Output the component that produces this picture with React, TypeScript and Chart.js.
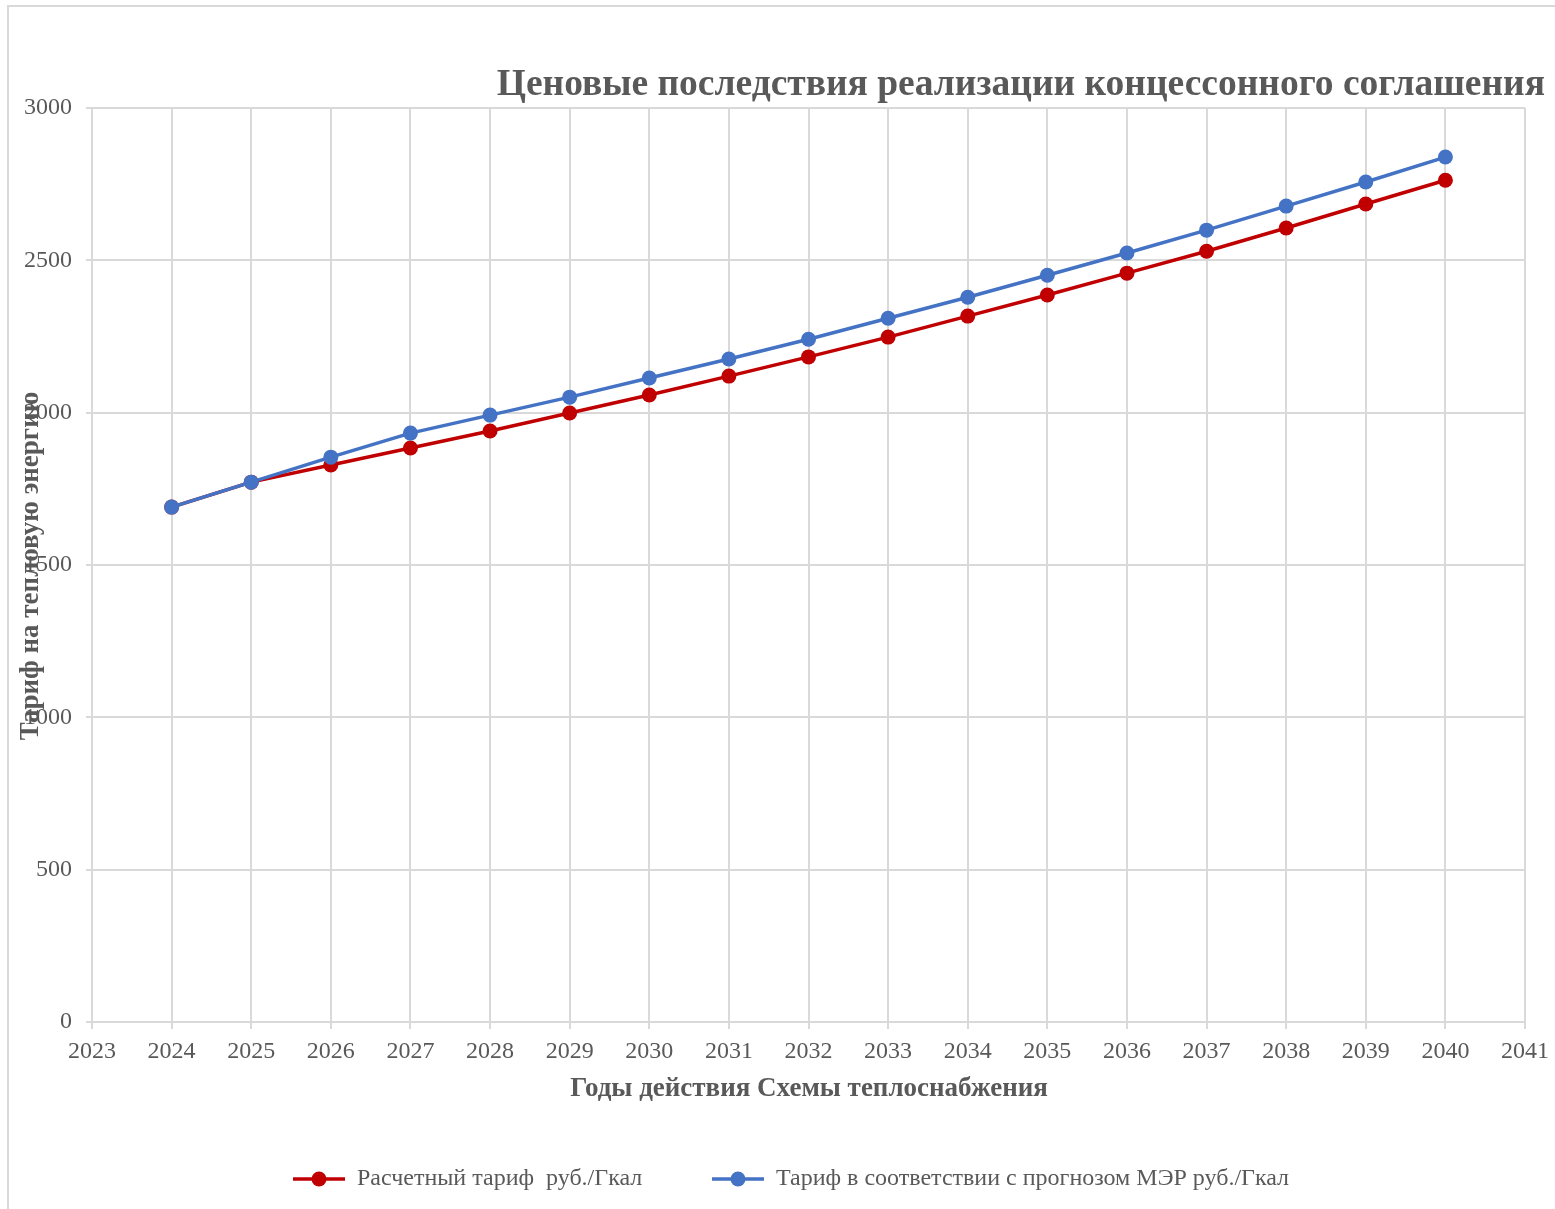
import React, { useEffect, useRef } from "react";
import { Chart, registerables } from "chart.js";

Chart.register(...registerables);

const years = [2024, 2025, 2026, 2027, 2028, 2029, 2030, 2031, 2032, 2033, 2034, 2035, 2036, 2037, 2038, 2039, 2040];
const calcTariff = [1690, 1772, 1828, 1884, 1940, 1999, 2058, 2120, 2183, 2248, 2317, 2386, 2458, 2530, 2606, 2685, 2763];
const merTariff = [1690, 1772, 1854, 1933, 1992, 2051, 2114, 2176, 2241, 2310, 2379, 2451, 2524, 2599, 2678, 2757, 2839];

const chartTitle = "Ценовые последствия реализации концессонного соглашения";
const xTitle = "Годы действия Схемы теплоснабжения";
const yTitle = "Тариф на тепловую энергию";
const seriesNames = ["Расчетный тариф  руб./Гкал", "Тариф в соответствии с прогнозом МЭР руб./Гкал"];
const seriesColors = ["#C00000", "#4472C4"];

const FONT = "'Liberation Serif', 'Times New Roman', serif";
const TEXT = "#595959";
const GRID = "#d9d9d9";

const decorPlugin = {
  id: "decor",
  beforeDraw(chart: any) {
    const ctx = chart.ctx;
    ctx.save();
    ctx.fillStyle = "#ffffff";
    ctx.fillRect(0, 0, chart.width, chart.height);
    ctx.strokeStyle = GRID;
    ctx.lineWidth = 2;
    ctx.strokeRect(8, 6, 1700, 1400);
    ctx.restore();
  },
  afterDraw(chart: any) {
    const ctx = chart.ctx;
    ctx.save();
    // Title
    ctx.fillStyle = TEXT;
    ctx.font = `bold 37.5px ${FONT}`;
    ctx.textAlign = "right";
    ctx.textBaseline = "alphabetic";
    ctx.fillText(chartTitle, 1545, 95);
    // X title
    ctx.font = `bold 27px ${FONT}`;
    ctx.textAlign = "center";
    ctx.textBaseline = "middle";
    ctx.fillText(xTitle, 809, 1089);
    // Y title (overlapping ticks as in the reference)
    ctx.save();
    ctx.translate(31, 566);
    ctx.rotate(-Math.PI / 2);
    ctx.fillText(yTitle, 0, 0);
    ctx.restore();
    // Legend
    const items = [
      { x: 293, label: seriesNames[0], color: seriesColors[0] },
      { x: 712, label: seriesNames[1], color: seriesColors[1] },
    ];
    const ly = 1179;
    items.forEach((it) => {
      ctx.strokeStyle = it.color;
      ctx.lineWidth = 3.5;
      ctx.beginPath();
      ctx.moveTo(it.x, ly);
      ctx.lineTo(it.x + 52, ly);
      ctx.stroke();
      ctx.fillStyle = it.color;
      ctx.beginPath();
      ctx.arc(it.x + 26, ly, 7.5, 0, Math.PI * 2);
      ctx.fill();
      ctx.fillStyle = TEXT;
      ctx.font = `24px ${FONT}`;
      ctx.textAlign = "left";
      ctx.textBaseline = "middle";
      ctx.fillText(it.label, it.x + 64, ly);
    });
    ctx.restore();
  },
};

export default function App() {
  const ref = useRef<HTMLCanvasElement | null>(null);
  useEffect(() => {
    if (!ref.current) return;
    const mk = (vals: number[]) => years.map((y, i) => ({ x: y, y: vals[i] }));
    const chart = new Chart(ref.current, {
      type: "line",
      data: {
        datasets: [
          {
            label: seriesNames[0],
            data: mk(calcTariff),
            borderColor: seriesColors[0],
            backgroundColor: seriesColors[0],
            borderWidth: 3.5,
            pointRadius: 7.5,
            pointHoverRadius: 7.5,
            pointBorderWidth: 0,
            tension: 0,
            order: 2,
          },
          {
            label: seriesNames[1],
            data: mk(merTariff),
            borderColor: seriesColors[1],
            backgroundColor: seriesColors[1],
            borderWidth: 3.5,
            pointRadius: 7.5,
            pointHoverRadius: 7.5,
            pointBorderWidth: 0,
            tension: 0,
            order: 1,
          },
        ],
      },
      options: {
        responsive: false,
        animation: false,
        events: [],
        layout: { padding: { top: 108, right: 30, bottom: 0, left: 0 } },
        plugins: { legend: { display: false }, title: { display: false }, tooltip: { enabled: false } },
        scales: {
          x: {
            type: "linear",
            min: 2023,
            max: 2041,
            afterFit: (s: any) => { s.height = 187; s.paddingLeft = 0; s.paddingRight = 0; },
            grid: { color: GRID, lineWidth: 2, tickLength: 7, tickColor: GRID, drawTicks: true },
            border: { color: GRID, width: 2 },
            ticks: {
              stepSize: 1,
              padding: 8,
              color: TEXT,
              font: { family: FONT, size: 24 },
              callback: (v: any) => String(v),
              maxRotation: 0,
              autoSkip: false,
            },
          },
          y: {
            min: 0,
            max: 3000,
            afterFit: (s: any) => { s.width = 92; s.paddingTop = 0; s.paddingBottom = 0; },
            grid: { color: GRID, lineWidth: 2, tickLength: 6, tickColor: GRID },
            border: { color: GRID, width: 2 },
            ticks: {
              stepSize: 500,
              padding: 14,
              color: TEXT,
              font: { family: FONT, size: 24 },
              callback: (v: any) => String(v),
            },
          },
        },
      },
      plugins: [decorPlugin],
    });
    return () => chart.destroy();
  }, []);
  return (
    <div style={{ position: "absolute", left: 0, top: 0, width: 1555, height: 1209 }}>
      <canvas ref={ref} width={1555} height={1209} />
    </div>
  );
}
